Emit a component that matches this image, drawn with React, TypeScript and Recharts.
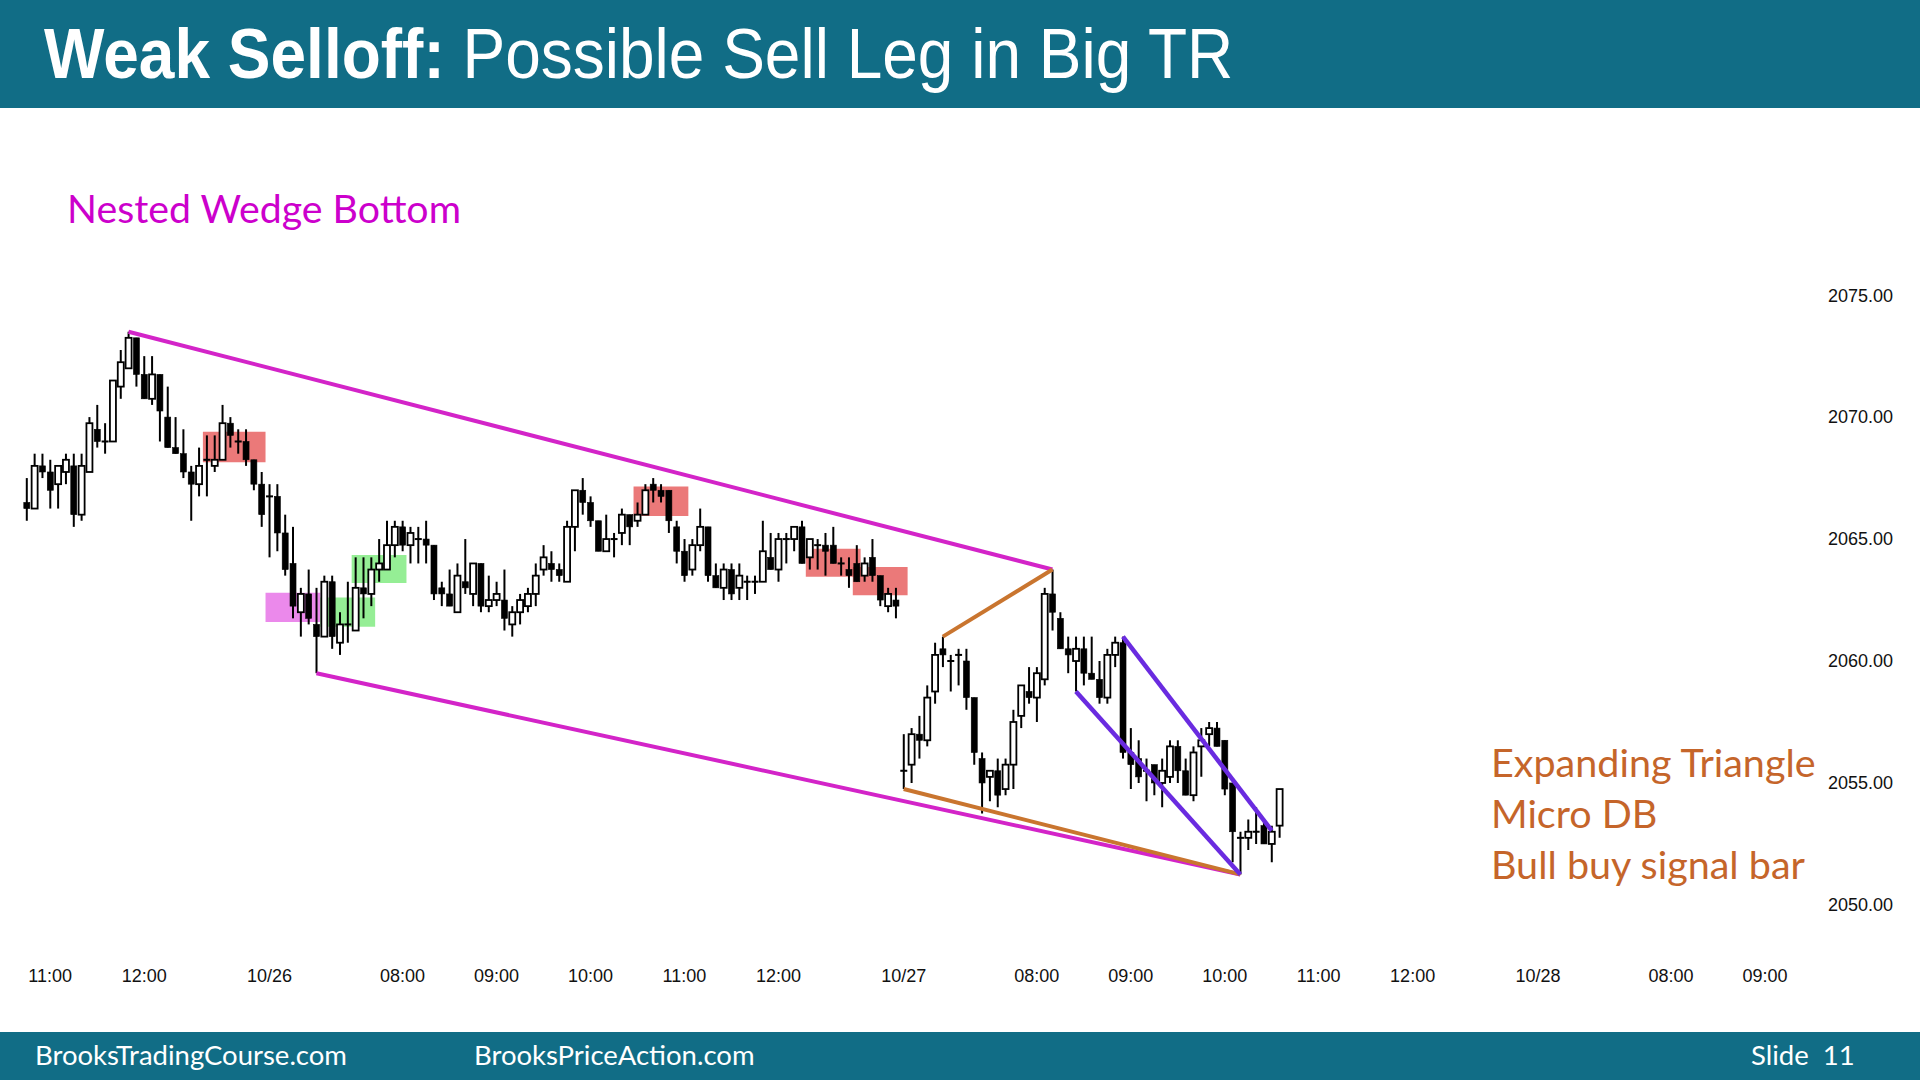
import React from 'react';
import { ComposedChart, Bar, XAxis, YAxis, ReferenceArea, ReferenceLine } from 'recharts';

// 5-minute bars, slot 0 = 10:45 on day 1; empty slots continue to 10/28 09:30
const SLOT_COUNT = 229;

const OPEN = [
  2066.5, 2066.25, 2068.0, 2067.75, 2067.25, 2067.75, 2068.0, 2066.0, 2067.75, 2069.5,
  2069.0, 2069.0, 2071.25, 2072.0, 2073.25, 2071.75, 2070.75, 2071.75, 2070.0, 2068.75,
  2068.5, 2067.75, 2067.25, 2068.25, 2068.0, 2068.25, 2069.75, 2069.0, 2069.0, 2068.25,
  2067.25, 2066.75, 2066.75, 2065.25, 2064.0, 2062.0, 2062.75, 2061.5, 2061.0, 2063.25,
  2060.75, 2061.5, 2061.25, 2063.0, 2062.75, 2063.75, 2063.75, 2064.75, 2065.5, 2064.75,
  2065.0, 2065.0, 2064.75, 2063.0, 2062.75, 2062.0, 2063.25, 2062.75, 2064.0, 2062.25,
  2062.5, 2062.5, 2061.5, 2062.0, 2062.25, 2062.75, 2063.75, 2064.0, 2063.75, 2063.25,
  2065.5, 2067.0, 2066.5, 2065.75, 2064.5, 2065.0, 2065.25, 2066.0, 2065.75, 2066.0,
  2067.25, 2067.0, 2067.0, 2065.5, 2064.5, 2063.75, 2064.75, 2065.5, 2063.5, 2063.0,
  2063.75, 2063.0, 2063.25, 2063.25, 2063.25, 2064.25, 2063.75, 2065.0, 2065.0, 2065.5,
  2064.25, 2064.75, 2064.75, 2064.75, 2064.0, 2063.75, 2064.0, 2063.5, 2064.25, 2063.5,
  2062.25, 2062.5, 2055.5, 2055.75, 2057.0, 2056.75, 2058.75, 2060.5, 2060.0, 2060.25,
  2060.0, 2058.5, 2056.0, 2055.25, 2055.5, 2054.75, 2055.75, 2057.75, 2058.75, 2058.5,
  2059.25, 2062.75, 2061.75, 2060.5, 2060.0, 2060.5, 2059.5, 2059.25, 2058.5, 2060.25,
  2060.75, 2056.25, 2056.0, 2055.5, 2055.75, 2055.0, 2055.25, 2056.5, 2055.5, 2054.5,
  2056.5, 2057.0, 2057.25, 2056.75, 2055.0, 2052.75, 2052.75, 2053.0, 2053.25, 2052.5,
  2053.25,
];
const HIGH = [
  2067.5, 2068.5, 2068.5, 2068.25, 2068.0, 2068.5, 2068.5, 2068.5, 2070.0, 2070.5,
  2069.75, 2071.5, 2072.75, 2073.5, 2073.25, 2072.5, 2072.5, 2071.75, 2071.25, 2070.0,
  2069.5, 2068.0, 2068.75, 2069.25, 2069.25, 2070.5, 2070.0, 2069.5, 2069.5, 2068.25,
  2067.75, 2067.25, 2067.25, 2066.0, 2065.5, 2063.0, 2063.75, 2063.0, 2063.5, 2063.5,
  2062.0, 2063.25, 2064.25, 2064.25, 2064.25, 2065.0, 2065.75, 2065.75, 2065.75, 2065.5,
  2065.5, 2065.75, 2064.75, 2063.25, 2063.75, 2064.0, 2065.0, 2064.0, 2064.0, 2063.5,
  2063.25, 2063.75, 2062.25, 2062.75, 2063.0, 2064.0, 2064.75, 2064.5, 2064.0, 2065.75,
  2067.0, 2067.5, 2066.75, 2065.75, 2066.0, 2065.25, 2066.25, 2066.0, 2066.5, 2067.25,
  2067.5, 2067.25, 2067.0, 2065.75, 2065.0, 2065.0, 2066.25, 2065.5, 2064.0, 2064.0,
  2064.0, 2064.0, 2063.5, 2063.5, 2065.75, 2065.25, 2065.25, 2065.25, 2065.5, 2065.75,
  2065.0, 2065.0, 2065.25, 2065.5, 2064.25, 2064.25, 2064.75, 2064.25, 2065.0, 2063.5,
  2063.0, 2063.0, 2057.0, 2057.25, 2057.75, 2059.0, 2060.75, 2061.0, 2060.25, 2060.5,
  2060.5, 2058.5, 2056.25, 2055.5, 2056.0, 2056.0, 2058.0, 2059.0, 2059.75, 2059.75,
  2063.0, 2063.75, 2062.0, 2061.0, 2061.0, 2061.0, 2061.0, 2060.0, 2060.5, 2061.0,
  2061.0, 2057.25, 2056.75, 2056.0, 2055.75, 2056.0, 2056.75, 2056.75, 2056.0, 2056.5,
  2057.25, 2057.5, 2057.5, 2056.75, 2055.0, 2053.0, 2053.5, 2054.0, 2053.5, 2053.25,
  2054.75,
];
const LOW = [
  2065.75, 2066.25, 2067.5, 2066.25, 2066.25, 2067.25, 2065.5, 2065.75, 2067.75, 2068.75,
  2068.5, 2069.0, 2070.75, 2072.0, 2071.25, 2070.75, 2070.5, 2069.0, 2068.75, 2068.5,
  2067.5, 2065.75, 2066.75, 2066.75, 2067.75, 2068.25, 2068.75, 2068.5, 2068.0, 2067.0,
  2065.5, 2064.25, 2064.5, 2063.5, 2061.75, 2061.0, 2061.5, 2059.5, 2061.0, 2060.5,
  2060.25, 2060.75, 2061.25, 2061.75, 2062.25, 2063.25, 2063.75, 2064.25, 2064.5, 2064.0,
  2064.0, 2064.0, 2062.5, 2062.25, 2062.25, 2062.0, 2062.75, 2062.25, 2062.0, 2062.0,
  2062.25, 2061.25, 2061.0, 2061.5, 2062.0, 2062.25, 2063.5, 2063.25, 2063.25, 2063.25,
  2064.5, 2066.0, 2065.5, 2064.5, 2064.5, 2064.25, 2064.75, 2064.75, 2065.5, 2066.0,
  2066.5, 2066.5, 2065.25, 2064.0, 2063.25, 2063.5, 2064.5, 2063.25, 2063.0, 2062.5,
  2062.5, 2062.5, 2062.5, 2062.75, 2063.25, 2063.75, 2063.25, 2064.0, 2064.5, 2064.0,
  2063.75, 2063.75, 2063.5, 2064.0, 2063.5, 2063.0, 2063.25, 2063.25, 2063.25, 2062.25,
  2062.0, 2061.75, 2054.75, 2055.0, 2056.0, 2056.5, 2058.25, 2059.75, 2058.75, 2059.0,
  2058.0, 2055.75, 2053.75, 2054.25, 2054.0, 2054.5, 2054.75, 2057.25, 2058.25, 2057.5,
  2059.0, 2061.25, 2060.5, 2059.5, 2058.75, 2059.0, 2059.25, 2058.25, 2058.25, 2059.75,
  2056.0, 2054.75, 2055.0, 2054.25, 2054.5, 2054.0, 2055.0, 2055.0, 2054.5, 2054.25,
  2055.25, 2056.5, 2056.5, 2054.5, 2051.75, 2051.25, 2052.25, 2052.5, 2052.5, 2051.75,
  2052.75,
];
const CLOSE = [
  2066.25, 2068.0, 2067.75, 2067.0, 2068.0, 2068.25, 2066.0, 2068.0, 2069.75, 2069.0,
  2069.0, 2071.5, 2072.25, 2073.25, 2071.75, 2070.75, 2071.75, 2070.25, 2068.75, 2068.5,
  2067.75, 2067.25, 2068.0, 2068.25, 2068.25, 2069.75, 2069.25, 2069.0, 2068.25, 2067.25,
  2066.0, 2066.75, 2065.25, 2063.75, 2062.25, 2062.75, 2061.75, 2061.0, 2063.25, 2061.0,
  2061.5, 2061.5, 2063.0, 2062.75, 2063.75, 2064.0, 2064.75, 2065.5, 2064.75, 2065.25,
  2065.0, 2064.75, 2062.75, 2062.75, 2062.25, 2063.5, 2063.0, 2064.0, 2062.25, 2062.5,
  2062.75, 2061.75, 2062.0, 2062.5, 2062.75, 2063.5, 2064.25, 2063.75, 2063.5, 2065.5,
  2067.0, 2066.5, 2065.75, 2064.5, 2065.0, 2065.0, 2066.0, 2065.5, 2066.0, 2067.0,
  2067.0, 2066.75, 2065.75, 2064.5, 2063.5, 2064.75, 2065.5, 2063.5, 2063.0, 2063.75,
  2062.75, 2063.5, 2063.25, 2063.25, 2064.5, 2063.75, 2065.0, 2065.0, 2065.5, 2064.0,
  2065.0, 2064.75, 2064.5, 2064.0, 2064.0, 2063.5, 2063.25, 2064.0, 2063.5, 2062.5,
  2062.75, 2062.25, 2055.5, 2057.0, 2056.75, 2058.5, 2060.25, 2060.25, 2060.0, 2060.25,
  2058.5, 2056.25, 2055.0, 2055.5, 2054.5, 2055.75, 2057.5, 2059.0, 2058.5, 2059.5,
  2062.75, 2062.0, 2060.5, 2060.25, 2060.5, 2059.5, 2059.25, 2058.5, 2060.25, 2060.75,
  2056.25, 2055.75, 2055.25, 2055.5, 2055.0, 2055.5, 2056.5, 2055.5, 2054.5, 2056.25,
  2056.75, 2057.25, 2056.5, 2054.75, 2053.0, 2052.75, 2053.0, 2053.0, 2052.5, 2053.0,
  2054.75,
];

const TICK_SLOTS = [3, 15, 31, 48, 60, 72, 84, 96, 112, 129, 141, 153, 165, 177, 193, 210, 222];
const TICK_LABELS = ['11:00', '12:00', '10/26', '08:00', '09:00', '10:00', '11:00', '12:00', '10/27', '08:00', '09:00', '10:00', '11:00', '12:00', '10/28', '08:00', '09:00'];
const PRICE_TICKS = [2050, 2055, 2060, 2065, 2070, 2075];

// highlight boxes: [fromSlot, toSlot, lowPrice, highPrice]
const RED_BOXES = [[23, 30, 2068.15, 2069.4], [78, 84, 2065.95, 2067.15], [100, 106, 2063.45, 2064.6], [106, 112, 2062.7, 2063.85]];
const PINK_BOXES = [[31, 37, 2061.6, 2062.8]];
const GREEN_BOXES = [[38, 44, 2061.4, 2062.6], [42, 48, 2063.2, 2064.35]];

// trend lines: [slotA, priceA, slotB, priceB]
const WEDGE_LINES = [[13, 2073.5, 131, 2063.75], [37, 2059.5, 155, 2051.25]];
const TRIANGLE_LINES = [[117, 2061.0, 131, 2063.75], [112, 2054.75, 155, 2051.25]];
const CHANNEL_LINES = [[140, 2061.0, 159, 2053.05], [134, 2058.75, 155, 2051.25]];

const data = Array.from({ length: SLOT_COUNT }, (_, i) => ({
  slot: i,
  open: OPEN[i] ?? null,
  high: HIGH[i] ?? null,
  low: LOW[i] ?? null,
  close: CLOSE[i] ?? null,
  range: HIGH[i] != null ? [LOW[i], HIGH[i]] : null,
}));

const TEAL = '#116D86';
const AXIS_FONT = '"Liberation Sans", Arial, sans-serif';

const Candle = (props: any) => {
  const { x, y, width, height, payload } = props;
  if (!payload || payload.open == null || !isFinite(y) || !isFinite(height)) return null;
  const { open, close, high, low } = payload;
  const yTop = Math.min(y, y + height);
  const h = Math.abs(height);
  const span = high - low;
  const toY = (p: number) => (span === 0 ? yTop : yTop + ((high - p) / span) * h);
  const cx = x + width / 2;
  const bTop = toY(Math.max(open, close));
  const bBot = toY(Math.min(open, close));
  const up = close > open;
  const bw = 6;
  const bodyH = Math.max(bBot - bTop, 2);
  return (
    <g>
      <line x1={cx} x2={cx} y1={yTop} y2={yTop + h} stroke="#000" strokeWidth={2} />
      {close === open ? (
        <rect x={cx - bw / 2 - 0.5} y={bTop - 1} width={bw + 1} height={2} fill="#000" />
      ) : (
        <rect
          x={cx - bw / 2}
          y={bTop}
          width={bw}
          height={bodyH}
          fill={up ? '#fff' : '#000'}
          stroke="#000"
          strokeWidth={up ? 1.8 : 0.6}
        />
      )}
    </g>
  );
};

const slotLabel = (v: number) => {
  const k = TICK_SLOTS.indexOf(v);
  return k >= 0 ? TICK_LABELS[k] : '';
};

const textBase: React.CSSProperties = { position: 'absolute', whiteSpace: 'pre', margin: 0 };

export default function App() {
  return (
    <div style={{ position: 'absolute', left: 0, top: 0, width: 1920, height: 1080, background: '#fff', overflow: 'hidden' }}>
      <ComposedChart
        width={1920}
        height={1080}
        data={data}
        margin={{ top: 148.8, right: 4.1, bottom: 96.3, left: 22.8 }}
        barCategoryGap={0}
      >
        <XAxis
          dataKey="slot"
          type="category"
          ticks={TICK_SLOTS}
          interval={0}
          tickFormatter={slotLabel}
          axisLine={false}
          tickLine={false}
          tickMargin={9.5}
          height={30}
          tick={{ fontFamily: AXIS_FONT, fontSize: 18, fill: '#111' }}
        />
        <YAxis
          orientation="right"
          domain={[2048, 2081]}
          ticks={PRICE_TICKS}
          allowDataOverflow
          axisLine={false}
          tickLine={false}
          tickMargin={6}
          width={100}
          tickFormatter={(v: number) => v.toFixed(2)}
          tick={{ fontFamily: AXIS_FONT, fontSize: 18, fill: '#111', textAnchor: 'start' }}
        />
        <Bar dataKey="range" shape={Candle} isAnimationActive={false} />
        {RED_BOXES.map((b, i) => (
          <ReferenceArea key={`r${i}`} x1={b[0]} x2={b[1]} y1={b[2]} y2={b[3]} fill="#E23A3A" fillOpacity={0.68} stroke="none" />
        ))}
        {PINK_BOXES.map((b, i) => (
          <ReferenceArea key={`p${i}`} x1={b[0]} x2={b[1]} y1={b[2]} y2={b[3]} fill="#DE3BDE" fillOpacity={0.6} stroke="none" />
        ))}
        {GREEN_BOXES.map((b, i) => (
          <ReferenceArea key={`g${i}`} x1={b[0]} x2={b[1]} y1={b[2]} y2={b[3]} fill="#4EE24E" fillOpacity={0.6} stroke="none" />
        ))}
        {WEDGE_LINES.map((l, i) => (
          <ReferenceLine key={`w${i}`} segment={[{ x: l[0], y: l[1] }, { x: l[2], y: l[3] }]} stroke="#D324C8" strokeWidth={4} />
        ))}
        {TRIANGLE_LINES.map((l, i) => (
          <ReferenceLine key={`t${i}`} segment={[{ x: l[0], y: l[1] }, { x: l[2], y: l[3] }]} stroke="#C9752F" strokeWidth={4} />
        ))}
        {CHANNEL_LINES.map((l, i) => (
          <ReferenceLine key={`c${i}`} segment={[{ x: l[0], y: l[1] }, { x: l[2], y: l[3] }]} stroke="#6A2BE0" strokeWidth={4.5} />
        ))}
      </ComposedChart>

      <div style={{ position: 'absolute', left: 0, top: 0, width: 1920, height: 108, background: TEAL }} />
      <div
        style={{
          ...textBase,
          left: 44,
          top: 14,
          height: 80,
          lineHeight: '80px',
          fontFamily: AXIS_FONT,
          fontSize: 64,
          color: '#fff',
          transform: 'scaleY(1.1)',
          transformOrigin: 'left center',
        }}
      >
        <span style={{ fontWeight: 700 }}>Weak Selloff:</span> Possible Sell Leg in Big TR
      </div>

      <div style={{ ...textBase, left: 67, top: 182, lineHeight: '52px', fontFamily: 'Lato, sans-serif', fontSize: 39.3, color: '#CC00CC' }}>
        Nested Wedge Bottom
      </div>

      <div style={{ ...textBase, left: 1491, top: 736, lineHeight: '51px', fontFamily: 'Lato, sans-serif', fontSize: 39.5, color: '#C5652A' }}>
        {'Expanding Triangle\nMicro DB\nBull buy signal bar'}
      </div>

      <div style={{ position: 'absolute', left: 0, top: 1032, width: 1920, height: 48, background: TEAL }} />
      <div style={{ ...textBase, left: 35, top: 1032, lineHeight: '46px', fontFamily: 'Lato, sans-serif', fontSize: 27.5, color: '#fff' }}>
        BrooksTradingCourse.com
      </div>
      <div style={{ ...textBase, left: 474, top: 1032, lineHeight: '46px', fontFamily: 'Lato, sans-serif', fontSize: 27.5, color: '#fff' }}>
        BrooksPriceAction.com
      </div>
      <div style={{ ...textBase, left: 1751, top: 1032, lineHeight: '46px', fontFamily: 'Lato, sans-serif', fontSize: 27.5, color: '#fff' }}>
        {'Slide  11'}
      </div>
    </div>
  );
}
